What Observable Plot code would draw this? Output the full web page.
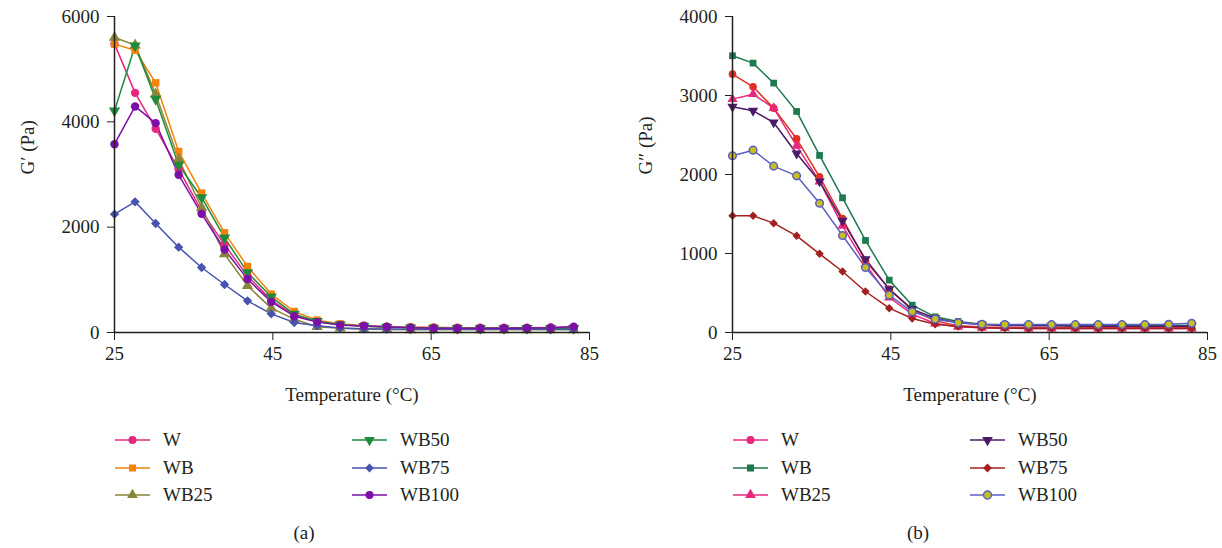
<!DOCTYPE html>
<html>
<head>
<meta charset="utf-8">
<script src="https://cdn.jsdelivr.net/npm/d3@7"></script>
<script src="https://cdn.jsdelivr.net/npm/@observablehq/plot@0.6"></script>
<style>
  html, body { margin: 0; padding: 0; background: #fff; }
  #root { position: relative; width: 1222px; height: 548px; overflow: hidden; font-family: 'Liberation Serif', 'DejaVu Serif', serif; color: #231f20; }
  .panel { position: absolute; top: 0; width: 611px; }
  .panel svg { max-width: none !important; }
  .leg { position: absolute; display: flex; align-items: center; height: 20px; font-size: 19px; white-space: nowrap; }
  .leg svg { display: block; margin-right: 13px; }
  .cap { position: absolute; font-size: 19px; transform: translate(-50%, -50%); white-space: nowrap; }
</style>
</head>
<body>
<div id="root"></div>
<script>
// ---------- data ----------
const temps = [25, 27.6, 30.2, 33.1, 36.0, 38.9, 41.8, 44.8, 47.7, 50.6, 53.5, 56.5, 59.4, 62.4, 65.3, 68.3, 71.2, 74.2, 77.1, 80.1, 83.0];
const seriesNames = ["W", "WB", "WB25", "WB50", "WB75", "WB100"];
const xTicks = [25, 45, 65, 85];
const yTicksA = [0, 2000, 4000, 6000];
const yTicksB = [0, 1000, 2000, 3000, 4000];

// (a) storage modulus G′ (Pa)
const gW     = [5480, 4550, 3870, 3100, 2310, 1665, 1076, 615, 330, 210, 145, 120, 110, 100, 95, 90, 90, 90, 90, 95, 100];
const gWB    = [5475, 5360, 4740, 3437, 2647, 1893, 1253, 729, 399, 235, 165, 130, 110, 100, 95, 90, 85, 80, 80, 80, 80];
const gWB25  = [5600, 5456, 4526, 3293, 2374, 1489, 887, 463, 254, 108, 80, 60, 55, 50, 50, 50, 50, 50, 50, 50, 50];
const gWB50  = [4210, 5444, 4431, 3180, 2564, 1800, 1140, 678, 349, 215, 150, 120, 100, 90, 85, 80, 80, 80, 80, 80, 80];
const gWB75  = [2247, 2481, 2070, 1620, 1234, 911, 601, 354, 190, 127, 85, 70, 65, 60, 60, 60, 60, 60, 60, 60, 60];
const gWB100 = [3576, 4292, 3975, 2994, 2253, 1576, 1013, 582, 310, 197, 140, 127, 108, 89, 82, 82, 82, 82, 84, 90, 112];

// (b) loss modulus G″ (Pa)
const lW     = [3270, 3110, 2840, 2452, 1971, 1443, 907, 549, 283, 148, 84, 70, 65, 60, 60, 60, 60, 60, 60, 60, 60];
const lWB    = [3503, 3410, 3157, 2798, 2241, 1705, 1165, 663, 346, 198, 139, 105, 95, 90, 90, 90, 90, 90, 90, 90, 90];
const lWB25  = [2954, 3017, 2840, 2363, 1912, 1350, 865, 443, 232, 114, 72, 60, 55, 50, 50, 50, 50, 50, 50, 50, 50];
const lWB50  = [2857, 2806, 2659, 2266, 1912, 1414, 928, 549, 295, 181, 122, 100, 90, 85, 85, 80, 80, 80, 80, 80, 80];
const lWB75  = [1477, 1477, 1384, 1224, 996, 772, 519, 308, 177, 105, 76, 60, 55, 50, 50, 50, 50, 50, 50, 50, 50];
const lWB100 = [2237, 2308, 2106, 1983, 1637, 1228, 823, 473, 262, 169, 122, 105, 100, 100, 100, 100, 100, 100, 100, 105, 118];

// ---------- styles ----------
const triDown = {
  draw(ctx, size) {
    const y = -Math.sqrt(size / (Math.sqrt(3) * 3));
    const s3 = Math.sqrt(3);
    ctx.moveTo(0, -y * 2);
    ctx.lineTo(-s3 * y, y);
    ctx.lineTo(s3 * y, y);
    ctx.closePath();
  }
};
const symbols = ["circle", "square", "triangle", triDown, "diamond2", "circle"];
const d3Symbols = [d3.symbolCircle, d3.symbolSquare, d3.symbolTriangle, triDown, d3.symbolDiamond2, d3.symbolCircle];

const colorsA = ["#e6267f", "#f5820a", "#8a8538", "#1e8b3c", "#4653b0", "#7b0fa8"];
const fillsA = colorsA;
const strokesA = colorsA.map(() => "none");

const colorsB = ["#e03020", "#1d7a4d", "#e8277f", "#4b1b68", "#a42020", "#5b5fc3"];
const fillsB = ["#e03020", "#1d7a4d", "#e8277f", "#4b1b68", "#a42020", "#c6c01c"];
const strokesB = ["none", "none", "none", "none", "none", "#5b5fc3"];
const legendColorsB = ["#e8277f", "#1d7a4d", "#e8277f", "#4b1b68", "#a42020", "#5b5fc3"];

const fontFamily = "'Liberation Serif', 'DejaVu Serif', serif";
const ink = "#231f20";

function tidy(values) {
  return temps.map((t, i) => ({T: t, v: values[i]}));
}

function makePanel({seriesValues, colors, fills, strokes, yDomain, yTicks, yLabel, r}) {
  const marks = [];
  seriesValues.forEach((vals, i) => {
    const data = tidy(vals);
    marks.push(Plot.line(data, {x: "T", y: "v", stroke: colors[i], strokeWidth: 1.5}));
  });
  seriesValues.forEach((vals, i) => {
    const data = tidy(vals);
    marks.push(Plot.dot(data, {x: "T", y: "v", symbol: symbols[i], r: r, fill: fills[i], stroke: strokes[i], strokeWidth: strokes[i] === "none" ? 0 : 1.5}));
  });
  marks.push(Plot.ruleY([yDomain[0]], {stroke: ink, strokeWidth: 1.5}));
  marks.push(Plot.ruleX([25], {stroke: ink, strokeWidth: 1.5}));
  marks.push(Plot.text(["Temperature (°C)"], {frameAnchor: "bottom", dy: 68, fontSize: 19, fill: ink}));
  marks.push(Plot.text([yLabel], {frameAnchor: "left", dx: -87, rotate: -90, fontSize: 19, fill: ink}));
  return Plot.plot({
    width: 611,
    height: 420,
    marginLeft: 114,
    marginRight: 22,
    marginTop: 16,
    marginBottom: 88,
    style: {fontFamily, fontSize: "19px", color: ink, background: "white", overflow: "visible", maxWidth: "none"},
    x: {domain: [25, 85], ticks: xTicks, tickSize: 8, tickPadding: 6, label: null, tickFormat: d => String(d)},
    y: {domain: yDomain, ticks: yTicks, tickSize: 7, tickPadding: 8, label: null, tickFormat: d => String(d)},
    marks
  });
}

const root = document.getElementById("root");

const panelA = makePanel({
  seriesValues: [gW, gWB, gWB25, gWB50, gWB75, gWB100],
  colors: colorsA, fills: fillsA, strokes: strokesA,
  yDomain: [0, 6000], yTicks: yTicksA, yLabel: "G′ (Pa)", r: 4.2
});
const divA = document.createElement("div");
divA.className = "panel"; divA.style.left = "0px";
divA.appendChild(panelA);
root.appendChild(divA);

const panelB = makePanel({
  seriesValues: [lW, lWB, lWB25, lWB50, lWB75, lWB100],
  colors: colorsB, fills: fillsB, strokes: strokesB,
  yDomain: [0, 4000], yTicks: yTicksB, yLabel: "G″ (Pa)", r: 3.8
});
const divB = document.createElement("div");
divB.className = "panel"; divB.style.left = "618px";
divB.appendChild(panelB);
root.appendChild(divB);

// ---------- legends ----------
function legendItem(x0, cy, name, color, fill, stroke, sym) {
  const div = document.createElement("div");
  div.className = "leg";
  div.style.left = x0 + "px";
  div.style.top = (cy - 10) + "px";
  const svg = d3.create("svg").attr("width", 35).attr("height", 20);
  svg.append("line").attr("x1", 0).attr("x2", 35).attr("y1", 10).attr("y2", 10)
    .attr("stroke", color).attr("stroke-width", 1.5);
  svg.append("path").attr("transform", "translate(17.5,10)")
    .attr("d", d3.symbol(sym, 50)())
    .attr("fill", fill).attr("stroke", stroke === "none" ? null : stroke).attr("stroke-width", 1.5);
  div.appendChild(svg.node());
  const span = document.createElement("span");
  span.textContent = name;
  div.appendChild(span);
  root.appendChild(div);
}
const rows = [440, 467.5, 495];
const colXA = [115, 352];
const colXB = [733, 970];
seriesNames.forEach((name, i) => {
  const col = Math.floor(i / 3), row = i % 3;
  legendItem(colXA[col], rows[row], name, colorsA[i], fillsA[i], strokesA[i], d3Symbols[i]);
  legendItem(colXB[col], rows[row], name, legendColorsB[i], i === 0 ? legendColorsB[0] : fillsB[i], strokesB[i], d3Symbols[i]);
});

function caption(text, x, y) {
  const d = document.createElement("div");
  d.className = "cap";
  d.style.left = x + "px"; d.style.top = y + "px";
  d.textContent = text;
  root.appendChild(d);
}
caption("(a)", 304, 533);
caption("(b)", 918, 533);
</script>
</body>
</html>
